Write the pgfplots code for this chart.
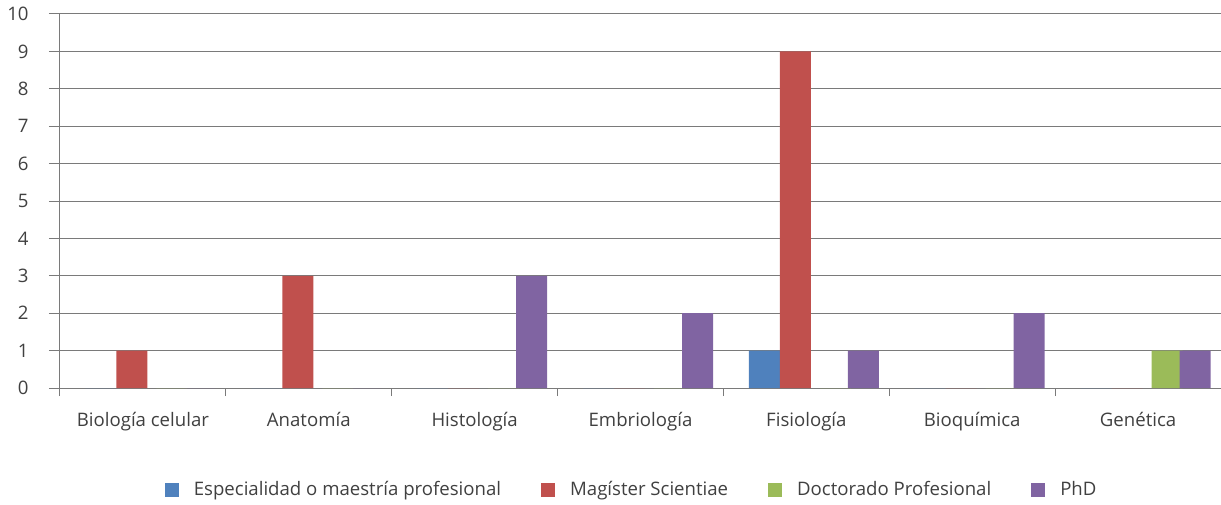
\documentclass[border=0pt]{standalone}
\usepackage{pgfplots}
\pgfplotsset{compat=1.18}
\usepackage{fontspec}
\setmainfont{Open Sans}
\definecolor{cEsp}{HTML}{4F81BD}
\definecolor{cMag}{HTML}{C0504D}
\definecolor{cDoc}{HTML}{9BBB59}
\definecolor{cPhd}{HTML}{8064A2}
\definecolor{gridc}{HTML}{7A7A7A}
\definecolor{txt}{HTML}{404040}
\begin{document}
\begin{tikzpicture}
\useasboundingbox (-30pt,-58pt) rectangle (580.5pt,194pt);
\begin{axis}[
  at={(0,0)}, anchor=south west,
  scale only axis, width=580.5pt, height=187pt,
  ybar, bar width=15.5pt,
  xmin=-0.5, xmax=6.5, ymin=0, ymax=10,
  axis x line*=bottom, axis y line*=left,
  axis line style={gridc, line width=0.5pt, -},
  xtick={0,...,6},
  xticklabels={Biología celular,Anatomía,Histología,Embriología,Fisiología,Bioquímica,Genética},
  minor xtick={-0.5,0.5,...,6.5},
  major x tick style={draw=none},
  minor x tick style={gridc, line width=0.5pt},
  tick align=outside,
  minor tick length=4pt,
  ytick={0,...,10},
  major tick length=5.5pt,
  y tick style={gridc, line width=0.5pt},
  ymajorgrids, grid style={gridc, line width=0.5pt},
  /pgf/number format/assume math mode=true,
  tick label style={font=\fontsize{9.3pt}{11pt}\selectfont, text=txt},
  yticklabel style={anchor=east, inner sep=0pt, xshift=-10pt},
  xticklabel style={yshift=-3pt},
  legend style={at={(0.498,-0.272)}, anchor=center, draw=none, fill=none,
    legend columns=4, font=\fontsize{9.3pt}{11pt}\selectfont, text=txt,
    nodes={inner xsep=7.5pt},
    /tikz/every even column/.append style={column sep=12.5pt}},
  legend image code/.code={\fill[#1] (0pt,-3.5pt) rectangle (7pt,3.5pt);},
]
\addplot[fill=cEsp, draw=none, bar shift=-21pt] coordinates {(0,0) (1,0) (2,0) (3,0) (4,1) (5,0) (6,0)};
\addplot[fill=cMag, draw=none, bar shift=-5.5pt] coordinates {(0,1) (1,3) (2,0) (3,0) (4,9) (5,0) (6,0)};
\addplot[fill=cDoc, draw=none, bar shift=14.5pt] coordinates {(0,0) (1,0) (2,0) (3,0) (4,0) (5,0) (6,1)};
\addplot[fill=cPhd, draw=none, bar shift=28.5pt] coordinates {(0,0) (1,0) (2,3) (3,2) (4,1) (5,2) (6,1)};
\legend{Especialidad o maestría profesional, Magíster Scientiae, Doctorado Profesional, PhD}
\end{axis}
\end{tikzpicture}
\end{document}
